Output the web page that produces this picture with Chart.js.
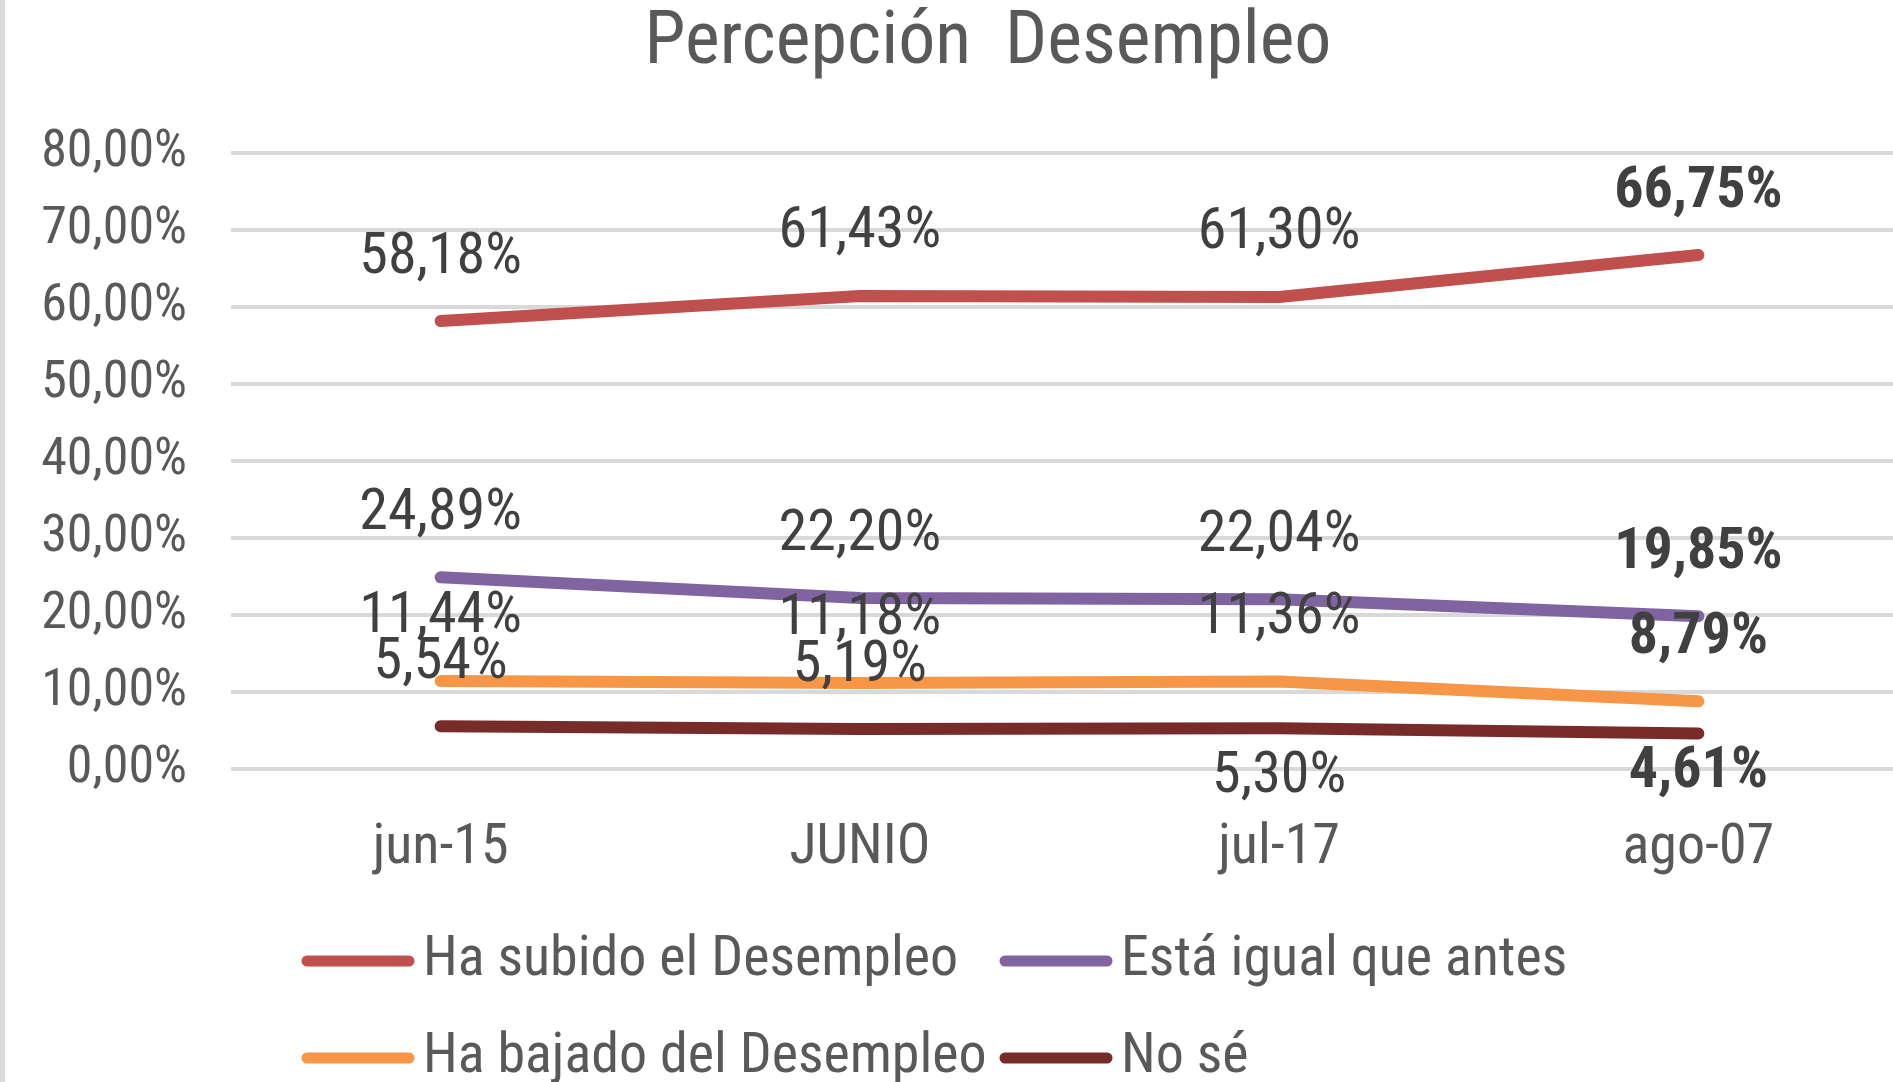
<!DOCTYPE html>
<html>
<head>
<meta charset="utf-8">
<script src="https://cdn.jsdelivr.net/npm/chart.js@4.4.1/dist/chart.umd.min.js"></script>
<style>
  html, body { margin: 0; padding: 0; background: #fff; overflow: hidden; }
  #wrap { position: absolute; left: 0; top: 0; width: 1905px; height: 1082px; border-left: 5px solid #d9d9d9; }
</style>
</head>
<body>
<div id="wrap"><canvas id="chart"></canvas></div>
<script>
// Datos
const categorias = ["jun-15", "JUNIO", "jul-17", "ago-07"];
const subido = [58.18, 61.43, 61.30, 66.75];
const igual = [24.89, 22.20, 22.04, 19.85];
const bajado = [11.44, 11.18, 11.36, 8.79];
const noSe = [5.54, 5.19, 5.30, 4.61];
const ticksY = [0, 10, 20, 30, 40, 50, 60, 70, 80];

const FONT = "'Roboto Condensed', Roboto, sans-serif";

const fmt = v => v.toFixed(2).replace(".", ",") + "%";

// título, etiquetas de datos y leyenda dibujadas a mano (estilo Excel)
const extras = {
    id: "extras",
    afterDatasetsDraw(chart) {
        const ctx = chart.ctx;
        ctx.save();
        // título
        ctx.fillStyle = "#595959";
        ctx.font = "74px " + FONT;
        ctx.textAlign = "center";
        ctx.textBaseline = "middle";
        ctx.fillText("Percepción  Desempleo", 983, 44);

        // etiquetas
        chart.data.datasets.forEach((ds, i) => {
            const meta = chart.getDatasetMeta(i);
            meta.data.forEach((pt, j) => {
                const last = j === ds.data.length - 1;
                const below = ds.labelBelow && ds.labelBelow.includes(j);
                ctx.font = (last ? "bold " : "") + "58px " + FONT;
                ctx.fillStyle = "#404040";
                let y = below ? pt.y + (last ? 39 : 49) : pt.y - 63;
                ctx.fillText(fmt(ds.data[j]), pt.x, y);
            });
        });

        // leyenda en dos columnas
        const cols = [297, 995];
        const rows = [961, 1058];
        ctx.font = "56px " + FONT;
        ctx.textAlign = "left";
        chart.data.datasets.forEach((ds, i) => {
            const x = cols[i % 2], y = rows[Math.floor(i / 2)];
            ctx.strokeStyle = ds.borderColor;
            ctx.lineWidth = 11;
            ctx.lineCap = "round";
            ctx.beginPath();
            ctx.moveTo(x + 5, y);
            ctx.lineTo(x + 107, y);
            ctx.stroke();
            ctx.fillStyle = "#595959";
            ctx.fillText(ds.label, x + 121, y);
        });
        ctx.restore();
    }
};

function serie(label, data, color, extra) {
    return Object.assign({
        label: label,
        data: data,
        borderColor: color,
        backgroundColor: color,
        borderWidth: 12,
        borderCapStyle: "round",
        borderJoinStyle: "round",
        pointRadius: 0,
        tension: 0,
        fill: false
    }, extra || {});
}

new Chart(document.getElementById("chart"), {
    type: "line",
    data: {
        labels: categorias,
        datasets: [
            serie("Ha subido el Desempleo", subido, "#C0504D"),
            serie("Está igual que antes", igual, "#8064A2"),
            serie("Ha bajado del Desempleo", bajado, "#F79646"),
            serie("No sé", noSe, "#772C2A", { labelBelow: [2, 3] })
        ]
    },
    options: {
        responsive: true,
        maintainAspectRatio: false,
        animation: false,
        layout: { padding: { top: 153, left: 20, right: 2, bottom: 183 } },
        plugins: {
            legend: { display: false },
            title: { display: false },
            tooltip: { enabled: false }
        },
        scales: {
            x: {
                offset: true,
                grid: { display: false },
                border: { display: false },
                ticks: { color: "#595959", font: { family: FONT, size: 56 }, padding: 38 },
                afterFit: s => { s.height = 130; }
            },
            y: {
                min: 0,
                max: 80,
                afterBuildTicks: s => { s.ticks = ticksY.map(v => ({ value: v })); },
                grid: { color: "#d9d9d9", lineWidth: 4, drawTicks: false },
                border: { display: false },
                ticks: {
                    color: "#595959",
                    font: { family: FONT, size: 52 },
                    padding: 44,
                    callback: v => fmt(v)
                },
                afterFit: s => { s.width = 206; }
            }
        }
    },
    plugins: [extras]
});
</script>
</body>
</html>
